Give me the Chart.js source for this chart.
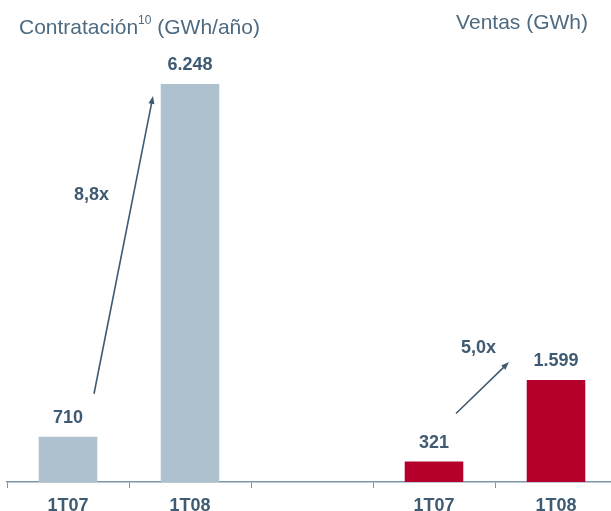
<!DOCTYPE html>
<html>
<head>
<meta charset="utf-8">
<script src="https://cdn.jsdelivr.net/npm/chart.js@4/dist/chart.umd.min.js"></script>
<style>
  html, body { margin: 0; padding: 0; background: #fff; overflow: hidden; }
  #wrap { position: relative; width: 611px; height: 511px; overflow: hidden; }
  canvas { position: absolute; left: 0; top: 0; }
  .titulo {
    position: absolute; top: 12px;
    font-family: "Liberation Sans", Arial, sans-serif;
    font-size: 21px; line-height: 20px; color: #4d6a80; white-space: nowrap;
  }
  .titulo sup { font-size: 12px; position: relative; top: -2px; }
</style>
</head>
<body>
<div id="wrap">
  <canvas id="grafico" width="620" height="511"></canvas>
  <div class="titulo" style="left:19px">Contratación<sup>10</sup> (GWh/año)</div>
  <div class="titulo" style="left:0; width:588px; text-align:right">Ventas (GWh)</div>
</div>
<script>
// datos
const periodos = ['1T07', '1T08', '', '1T07', '1T08']
const valores = [710, 6248, null, 321, 1599]
const colores = ['#adc1cf', '#adc1cf', '#adc1cf', '#b4002a', '#b4002a']
// crecimientos: [desde, hasta, texto]
const crecimientos = [
  [0, 1, '8,8x'],
  [3, 4, '5,0x']
]

const azulTexto = '#3f5b73'
const fuente = '"Liberation Sans", Arial, sans-serif'

function formatoMiles(n) {
  return String(n).replace(/\B(?=(\d{3})+(?!\d))/g, '.')
}

// etiquetas de valor encima de las barras
const etiquetasValor = {
  id: 'etiquetasValor',
  afterDatasetsDraw(chart) {
    const ctx = chart.ctx
    const meta = chart.getDatasetMeta(0)
    ctx.save()
    ctx.font = 'bold 18px ' + fuente
    ctx.fillStyle = azulTexto
    ctx.textAlign = 'center'
    ctx.textBaseline = 'alphabetic'
    meta.data.forEach((bar, i) => {
      if (valores[i] == null) return
      ctx.fillText(formatoMiles(valores[i]), bar.x, bar.y - 14)
    })
    ctx.restore()
  }
}

// flechas de crecimiento
const flechas = {
  id: 'flechas',
  afterDatasetsDraw(chart) {
    const ctx = chart.ctx
    const meta = chart.getDatasetMeta(0)
    // desplazamientos de cada flecha respecto a las barras (px)
    const ajustes = [
      { x0: 26, y0: -43, x1: -37, y1: 12, tx: -32, ty: -50 },
      { x0: 22, y0: -48, x1: -47, y1: -18, tx: -4, ty: -40 }
    ]
    ctx.save()
    crecimientos.forEach(([a, b, texto], k) => {
      const aj = ajustes[k]
      const x0 = meta.data[a].x + aj.x0, y0 = meta.data[a].y + aj.y0
      const x1 = meta.data[b].x + aj.x1, y1 = meta.data[b].y + aj.y1
      const ang = Math.atan2(y1 - y0, x1 - x0)
      ctx.strokeStyle = azulTexto
      ctx.fillStyle = azulTexto
      ctx.lineWidth = 1.6
      ctx.beginPath()
      ctx.moveTo(x0, y0)
      ctx.lineTo(x1 - 5 * Math.cos(ang), y1 - 5 * Math.sin(ang))
      ctx.stroke()
      ctx.beginPath()
      ctx.moveTo(x1, y1)
      ctx.lineTo(x1 - 8 * Math.cos(ang) + 3 * Math.sin(ang), y1 - 8 * Math.sin(ang) - 3 * Math.cos(ang))
      ctx.lineTo(x1 - 8 * Math.cos(ang) - 3 * Math.sin(ang), y1 - 8 * Math.sin(ang) + 3 * Math.cos(ang))
      ctx.closePath()
      ctx.fill()
      ctx.font = 'bold 18px ' + fuente
      ctx.textAlign = 'center'
      ctx.textBaseline = 'middle'
      ctx.fillText(texto, (x0 + x1) / 2 + aj.tx, (y0 + y1) / 2 + aj.ty)
    })
    ctx.restore()
  }
}

const grafico = new Chart(document.querySelector('#grafico'), {
  type: 'bar',
  data: {
    labels: periodos,
    datasets: [{
      data: valores,
      backgroundColor: colores,
      barPercentage: 0.48,
      categoryPercentage: 1
    }]
  },
  options: {
    responsive: false,
    animation: false,
    events: [],
    layout: { padding: { left: 7, right: 3, top: 36, bottom: 0 } },
    plugins: {
      legend: { display: false },
      tooltip: { enabled: false }
    },
    scales: {
      x: {
        offset: true,
        afterFit(scale) { scale.height = 29 },
        grid: {
          offset: true,
          drawOnChartArea: false,
          tickLength: 6,
          color: '#7f95a7'
        },
        border: { display: true, color: '#7f95a7', width: 1.5 },
        ticks: {
          color: azulTexto,
          padding: 7,
          font: { family: fuente, size: 18, weight: 'bold' }
        }
      },
      y: {
        display: false,
        min: 0,
        max: 7000
      }
    }
  },
  plugins: [etiquetasValor, flechas]
})
</script>
</body>
</html>
